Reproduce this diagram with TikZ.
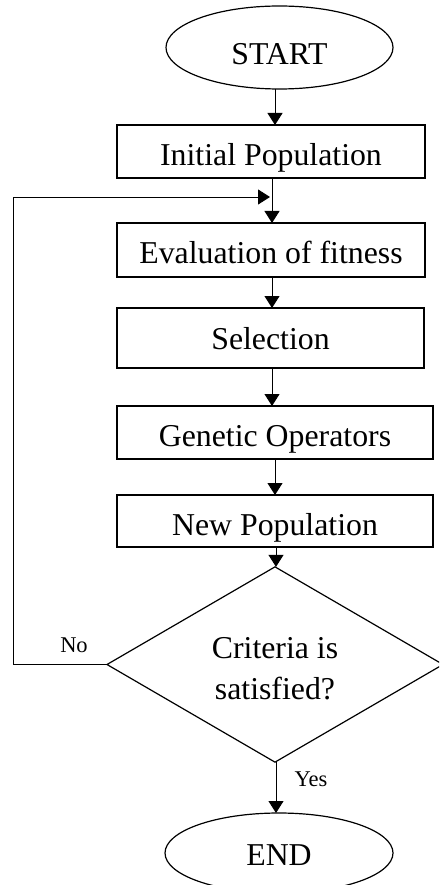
\documentclass[tikz,border=0pt]{standalone}
\usepackage{fontspec}
\setmainfont{Liberation Serif}
\usetikzlibrary{shapes.geometric,arrows.meta}
\tikzset{
  big/.style={font=\fontsize{31.8}{41}\selectfont},
  small/.style={font=\fontsize{22.5}{27}\selectfont, inner sep=0pt, anchor=base},
  procbox/.style={draw, line width=1.4pt, big, inner xsep=0pt, inner ysep=0pt, outer sep=0pt, anchor=base, align=center},
  term/.style={draw, ellipse, line width=1.2pt, big, inner sep=0pt, outer sep=0pt},
  decide/.style={draw, diamond, line width=1.2pt, big, inner sep=0pt, outer sep=0pt, align=center},
  arr/.style={line width=0.9pt, -{Triangle[length=12pt,width=15pt]}},
}
\begin{document}
\begin{tikzpicture}[x=1pt,y=-1pt]
\path[use as bounding box] (0,0) rectangle (439,885);
\clip (0,0) rectangle (439,885);

\node[term, minimum width=227pt, minimum height=83pt, text height=35pt, text depth=0pt] (start) at (279.5,47.5) {START};
\node[procbox, minimum width=308pt, text height=41pt, text depth=12pt] (init) at (271,166) {Initial Population};
\node[procbox, minimum width=308pt, text height=40pt, text depth=14pt] (eval) at (271,263) {Evaluation of fitness};
\node[procbox, minimum width=307pt, text height=41pt, text depth=19pt] (sel) at (270.5,349) {Selection};
\node[procbox, minimum width=316pt, text height=40pt, text depth=13pt] (gen) at (275,446) {Genetic Operators};
\node[procbox, minimum width=316pt, text height=40pt, text depth=12pt] (newp) at (275,535) {New Population};
\node[decide, minimum width=336pt, minimum height=189pt, text height=69pt, text depth=0pt] (dia) at (275,664.5) {Criteria is\\satisfied?};
\node[term, minimum width=228pt, minimum height=80pt, text height=24pt, text depth=0pt] (stop) at (279,853) {END};

\node[small] (no) at (74,652) {No};
\node[small] (yes) at (311,786) {Yes};

\draw[arr] ([xshift=-4.5pt]start.south) -- ([xshift=-4.5pt]start.south |- init.north);
\draw[arr] ([xshift=1pt]init.south) -- ([xshift=1pt]init.south |- eval.north);
\draw[arr] ([xshift=1pt]eval.south) -- ([xshift=1pt]eval.south |- sel.north);
\draw[arr] ([xshift=1.5pt]sel.south) -- ([xshift=1.5pt]sel.south |- gen.north);
\draw[arr] (gen.south) -- (gen.south |- newp.north);
\draw[arr] ([xshift=1pt]newp.south) -- ([xshift=1pt]newp.south |- dia.north);
\draw[arr] ([xshift=1pt]dia.south) -- ([xshift=1pt]dia.south |- stop.north);

\coordinate (lp) at (13,197);
\coordinate (mj) at ([xshift=-1pt]init.south |- lp);
\draw[arr] (dia.west) -| (lp) -- (mj);
\end{tikzpicture}
\end{document}
